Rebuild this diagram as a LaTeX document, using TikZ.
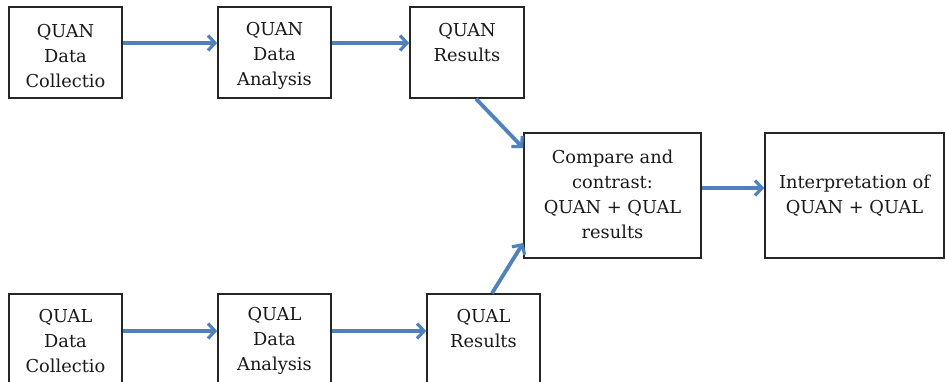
\documentclass[tikz,border=0pt]{standalone}
\usepackage{fontspec}
\setmainfont{DejaVu Serif}
\usetikzlibrary{arrows.meta}
\definecolor{arrowblue}{RGB}{79,129,189}
\tikzset{
  box/.style={draw=black!85, line width=1.6pt, rectangle, inner sep=0pt},
  lbl/.style={align=center, inner sep=0pt, text=black!90, font=\fontsize{17.8}{25}\selectfont},
  flow/.style={draw=arrowblue, line width=3.8pt, -{Straight Barb[length=7pt,width=15pt,line width=3.2pt]}},
}
\begin{document}
\begin{tikzpicture}[x=1pt,y=-1pt]
\useasboundingbox (0,0) rectangle (945,381);
\clip (0,0) rectangle (945,381);
\node[box, minimum width=113, minimum height=91] (qc1) at (65.5,52.5) {};
\node[box, minimum width=113, minimum height=91] (qa1) at (274.5,52.5) {};
\node[box, minimum width=114, minimum height=91] (qr1) at (467,52.5) {};
\node[box, minimum width=177, minimum height=125] (cmp) at (612.5,195.5) {};
\node[box, minimum width=179, minimum height=125] (int) at (854.5,195.5) {};
\node[box, minimum width=113, minimum height=91] (qc2) at (65.5,339.5) {};
\node[box, minimum width=113, minimum height=91] (qa2) at (274.5,339.5) {};
\node[box, minimum width=113, minimum height=91] (qr2) at (483.5,339.5) {};
\node[lbl] (qc1t) at ([yshift=-3.5pt]qc1.center) {QUAN\\Data\\Collectio};
\node[lbl] (qa1t) at ([yshift=-3.5pt]qa1.center) {QUAN\\Data\\Analysis};
\node[lbl] (qr1t) at ([yshift=10pt]qr1.center) {QUAN\\Results};
\node[lbl] (cmpt) at ([yshift=1pt]cmp.center) {Compare and\\contrast:\\QUAN + QUAL\\results};
\node[lbl] (intt) at ([yshift=-0.5pt]int.center) {Interpretation of\\QUAN + QUAL};
\node[lbl] (qc2t) at ([yshift=-1.5pt]qc2.center) {QUAL\\Data\\Collectio};
\node[lbl] (qa2t) at ([yshift=-1.5pt]qa2.center) {QUAL\\Data\\Analysis};
\node[lbl] (qr2t) at ([yshift=10.5pt]qr2.center) {QUAL\\Results};
\draw[flow] ([yshift=9.5pt]qc1.east) -- ([yshift=9.5pt]qa1.west);
\draw[flow] ([yshift=9.5pt]qa1.east) -- ([yshift=9.5pt]qr1.west);
\draw[flow] ([yshift=8.5pt]qc2.east) -- ([yshift=8.5pt]qa2.west);
\draw[flow] ([yshift=8.5pt]qa2.east) -- ([yshift=8.5pt]qr2.west);
\draw[flow] ([xshift=9pt]qr1.south) -- ([yshift=47.5pt]cmp.west);
\draw[flow] ([xshift=8.5pt]qr2.north) -- ([yshift=-47.5pt]cmp.west);
\draw[flow] ([yshift=7.5pt]cmp.east) -- ([yshift=7.5pt]int.west);
\end{tikzpicture}
\end{document}
